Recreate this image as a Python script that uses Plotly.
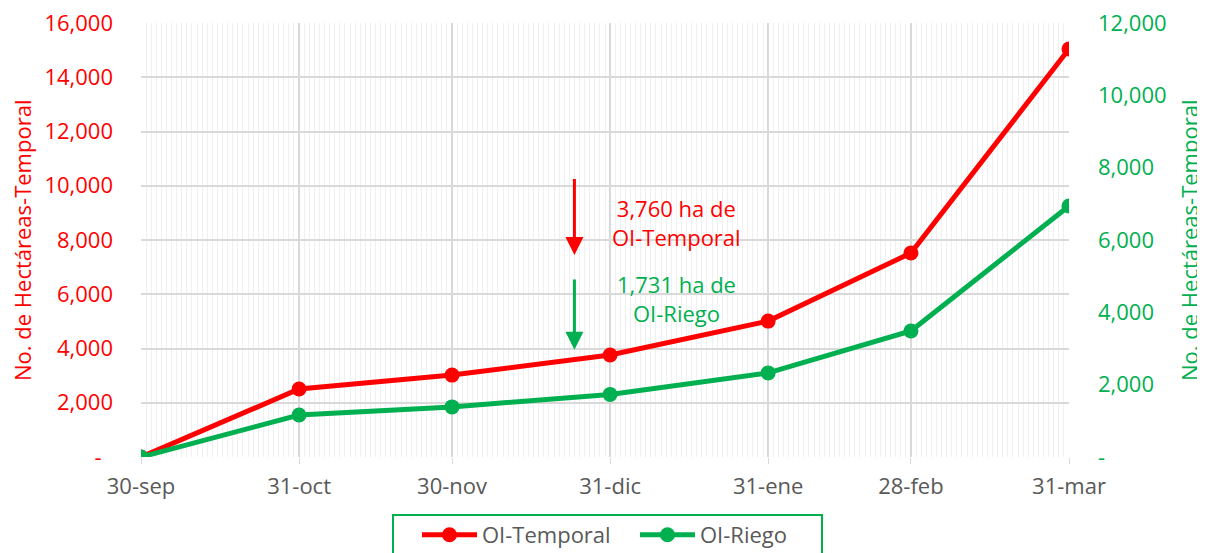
import plotly.graph_objects as go

dates = ["2022-09-30", "2022-10-31", "2022-11-30", "2022-12-31", "2023-01-31", "2023-02-28", "2023-03-31"]
tick_labels = ["30-sep", "31-oct", "30-nov", "31-dic", "31-ene", "28-feb", "31-mar"]
temporal = [0, 2505, 3020, 3760, 5010, 7520, 15040]
riego = [0, 1160, 1385, 1731, 2325, 3485, 6940]

left_ticks = [0, 2000, 4000, 6000, 8000, 10000, 12000, 14000, 16000]
right_ticks = [0, 2000, 4000, 6000, 8000, 10000, 12000]

RED = "#ff0000"
GREEN = "#00b050"
GRAY = "#595959"
FONT = "Open Sans"
FS = 22

# plot area in screen pixels (used only to place paper-referenced decorations)
PL, PR, PT, PB = 141, 1069, 23, 457
PW, PH = PR - PL, PB - PT

def px(x):
    return (x - PL) / PW

def py(y):
    return (PB - y) / PH

def fmt(v, left):
    if v == 0:
        return "-\u00a0\u00a0" if left else "-"
    return f"{v:,}"

fig = go.Figure()
fig.add_trace(go.Scatter(x=dates, y=temporal, name="OI-Temporal", mode="lines+markers",
                         line=dict(color=RED, width=5), marker=dict(size=15, color=RED),
                         yaxis="y"))
fig.add_trace(go.Scatter(x=dates, y=riego, name="OI-Riego", mode="lines+markers",
                         line=dict(color=GREEN, width=5), marker=dict(size=15, color=GREEN),
                         yaxis="y2"))

fig.update_layout(
    width=1205, height=553,
    margin=dict(l=133, r=144, t=15, b=104, autoexpand=False),
    plot_bgcolor="white", paper_bgcolor="white",
    font=dict(family=FONT, size=FS, color=GRAY),
    xaxis=dict(
        type="date", range=["2022-09-30", "2023-03-31"],
        tickmode="array", tickvals=dates, ticktext=tick_labels,
        showgrid=True, gridcolor="#d9d9d9", gridwidth=1.5,
        ticks="outside", ticklen=6, tickcolor="#d9d9d9",
        tickfont=dict(size=FS, color=GRAY),
        ticklabelstandoff=4, ticklabeloverflow="allow",
        showline=False, zeroline=False,
        minor=dict(dtick=86400000, tick0="2022-09-30", showgrid=True,
                   gridcolor="#f0f0f0", gridwidth=1, ticks=""),
    ),
    yaxis=dict(
        range=[0, 16000], tickmode="array", tickvals=left_ticks,
        ticktext=[fmt(v, True) for v in left_ticks],
        tickfont=dict(size=FS, color=RED),
        showgrid=True, gridcolor="#d9d9d9", gridwidth=1.5, zeroline=False,
        ticklabelstandoff=27, ticklabeloverflow="allow",
    ),
    yaxis2=dict(
        range=[0, 12000], overlaying="y", side="right", tickmode="array",
        tickvals=right_ticks, ticktext=[fmt(v, False) for v in right_ticks],
        tickfont=dict(size=FS, color=GREEN), showgrid=False, zeroline=False,
        ticklabelstandoff=28, ticklabeloverflow="allow",
    ),
    legend=dict(orientation="h", x=px(417), xanchor="left",
                y=py(514), yanchor="top",
                borderwidth=0, bgcolor="rgba(0,0,0,0)", font=dict(size=FS, color=GRAY),
                itemwidth=55, entrywidth=148),
    showlegend=True,
)

fig.add_shape(type="rect", xref="paper", yref="paper",
              x0=px(393), x1=px(822), y0=py(515), y1=py(575),
              line=dict(color=GREEN, width=2), fillcolor="rgba(0,0,0,0)")

# axis titles
fig.add_annotation(x=px(22), y=py(241), xref="paper", yref="paper", showarrow=False,
                   textangle=-90, xanchor="center", yanchor="middle",
                   text="No. de Hectáreas-Temporal", font=dict(size=FS, color=RED))
fig.add_annotation(x=px(1189), y=py(241), xref="paper", yref="paper", showarrow=False,
                   textangle=-90, xanchor="center", yanchor="middle",
                   text="No. de Hectáreas-Temporal", font=dict(size=FS, color=GREEN))

fig.add_annotation(x="2022-12-24", y=7450, ax="2022-12-24", ay=10300,
                   xref="x", yref="y", axref="x", ayref="y",
                   showarrow=True, arrowhead=2, arrowsize=1.2, arrowwidth=3,
                   arrowcolor=RED, text="")
fig.add_annotation(x="2022-12-24", y=3950, ax="2022-12-24", ay=6600,
                   xref="x", yref="y", axref="x", ayref="y",
                   showarrow=True, arrowhead=2, arrowsize=1.2, arrowwidth=3,
                   arrowcolor=GREEN, text="")
fig.add_annotation(x="2023-01-13", y=8660, xref="x", yref="y", showarrow=False,
                   text="3,760 ha de<br>OI-Temporal", font=dict(size=FS, color=RED))
fig.add_annotation(x="2023-01-13", y=5860, xref="x", yref="y", showarrow=False,
                   text="1,731 ha de<br>OI-Riego", font=dict(size=FS, color=GREEN))

fig.write_html("out.html")
